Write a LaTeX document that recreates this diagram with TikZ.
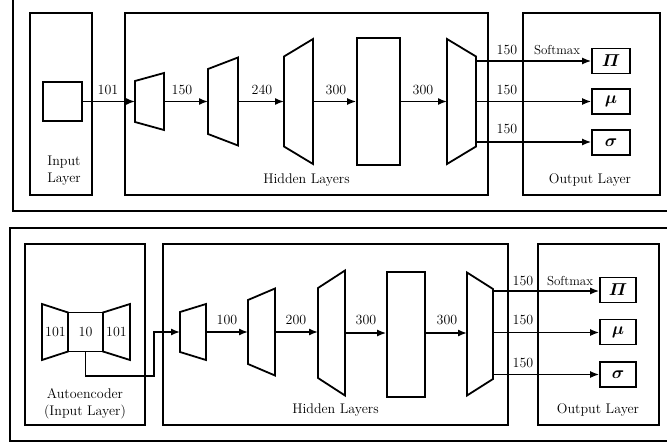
\documentclass[tikz,border=0pt]{standalone}
\usepackage{amsmath}
\usepackage{fontspec}
\setmainfont{Latin Modern Roman}
\usetikzlibrary{arrows.meta}
\tikzset{
  bx/.style={draw, line width=1.8pt, inner sep=0pt},
  shp/.style={draw, line width=1.8pt, line join=miter},
  conn/.style={line width=1.4pt, -{Latex[length=9pt,width=7pt]}},
  lbl/.style={inner sep=0pt, font=\fontsize{14}{16}\selectfont},
  smx/.style={inner sep=0pt, font=\fontsize{13}{15}\selectfont},
  ttl/.style={inner sep=0pt, align=center, font=\fontsize{14}{16.5}\selectfont},
  sym/.style={font=\fontsize{17.28}{19}\selectfont}
}
% name, cy, xl, half-height left, xr, half-height right
\newcommand\trapz[6]{%
  \draw[shp] (#3,#2-#4) -- (#3,#2+#4) -- (#5,#2+#6) -- (#5,#2-#6) -- cycle;
  \coordinate (#1w) at (#3,#2);
  \coordinate (#1e) at (#5,#2);
}
\begin{document}
\begin{tikzpicture}[x=1pt,y=-1pt]
\clip (0,0) rectangle (667,444);
%================ TOP PANEL ================
\draw[line width=1.8pt] (13,-10) rectangle (690,211);
\node[bx, minimum width=62pt, minimum height=182pt] (inbox) at (61,104) {};
\node[bx, minimum width=363pt, minimum height=182pt] (hid) at (306.5,104) {};
\node[bx, minimum width=137pt, minimum height=182pt] (outbox) at (591.5,104) {};
\node[bx, minimum width=39pt, minimum height=39pt] (sq) at (62.5,101.5) {};
\node[ttl] (intxt) at (64,170.5) {Input\\Layer};
\node[lbl] (hidtxt) at (306.5,180) {Hidden Layers};
\node[lbl] (outtxt) at (590,180) {Output Layer};
\trapz{ta}{101.5}{135}{20.5}{164}{28.5}
\trapz{tb}{101.5}{208}{32.5}{238}{44}
\trapz{tc}{101.5}{284}{45}{313}{62.5}
\node[bx, minimum width=43pt, minimum height=127pt] (tr) at (378.5,101.5) {};
\trapz{td}{101.5}{447}{62.5}{476}{45}
\coordinate (tdA) at (476,61);
\coordinate (tdC) at (476,142);
\node[bx, minimum width=38pt, minimum height=25pt, sym] (o1) at (611,61) {$\boldsymbol{\varPi}$};
\node[bx, minimum width=38pt, minimum height=25pt, sym] (o2) at (611,101.5) {$\boldsymbol{\mu}$};
\node[bx, minimum width=38pt, minimum height=25pt, sym] (o3) at (611,142.5) {$\boldsymbol{\sigma}$};
\draw[conn] (sq.east) -- (taw);
\draw[conn] (tae) -- (tbw);
\draw[conn] (tbe) -- (tcw);
\draw[conn] (tce) -- (tr.west);
\draw[conn] (tr.east) -- (tdw);
\draw[conn] (tdA) -- (tdA -| o1.west);
\draw[conn] (tde) -- (o2.west);
\draw[conn] (tdC) -- (tdC -| o3.west);
\node[lbl] (l1) at (108,90) {101};
\node[lbl] (l2) at (182,90) {150};
\node[lbl] (l3) at (262,90) {240};
\node[lbl] (l4) at (336,90) {300};
\node[lbl] (l5) at (423,90) {300};
\node[lbl] (l6) at (507,50) {150};
\node[lbl] (l7) at (507,90) {150};
\node[lbl] (l8) at (507,129) {150};
\node[smx] (sm1) at (557,50) {Softmax};
%================ BOTTOM PANEL ================
\draw[line width=1.8pt] (10,228) rectangle (690,441);
\node[bx, minimum width=120pt, minimum height=181pt] (aebox) at (85,334.5) {};
\node[bx, minimum width=345pt, minimum height=181pt] (hid2) at (335.5,334.5) {};
\node[bx, minimum width=121pt, minimum height=181pt] (outbox2) at (598.5,334.5) {};
\trapz{ea}{332}{42}{28}{68}{19.5}
\node[bx, minimum width=35pt, minimum height=39pt] (mid) at (85.5,332) {};
\trapz{eb}{332}{103}{19.5}{130}{28}
\node[lbl] (e1) at (55.5,332) {101};
\node[lbl] (e2) at (85.5,332) {10};
\node[lbl] (e3) at (116.5,332) {101};
\node[ttl] (aetxt) at (85,404) {Autoencoder\\(Input Layer)};
\node[lbl] (hidtxt2) at (335.5,410) {Hidden Layers};
\node[lbl] (outtxt2) at (598,410) {Output Layer};
\trapz{ba}{332}{180}{20}{206}{28}
\trapz{bb}{332}{248}{32}{275}{43.5}
\trapz{bc}{333}{318}{45}{345}{62.5}
\node[bx, minimum width=38pt, minimum height=125pt] (br) at (406,334.5) {};
\trapz{bd}{334}{467}{61.5}{493}{45}
\coordinate (bdA) at (493,291);
\coordinate (bdB) at (493,332.5);
\coordinate (bdC) at (493,374.5);
\coordinate (bend) at (154,376);
\node[bx, minimum width=36pt, minimum height=25pt, sym] (p1) at (618,290) {$\boldsymbol{\varPi}$};
\node[bx, minimum width=36pt, minimum height=25pt, sym] (p2) at (618,332) {$\boldsymbol{\mu}$};
\node[bx, minimum width=36pt, minimum height=25pt, sym] (p3) at (618,374.5) {$\boldsymbol{\sigma}$};
\draw[conn] (mid.south) |- (bend) |- (baw);
\draw[conn] (bae) -- (bbw);
\draw[conn] (bbe) -- (bbe -| bcw);
\draw[conn] (bce) -- (bce -| br.west);
\draw[conn] (bce -| br.east) -- (bce -| bdw);
\draw[conn] (bdA) -- (bdA -| p1.west);
\draw[conn] (bdB) -- (bdB -| p2.west);
\draw[conn] (bdC) -- (bdC -| p3.west);
\node[lbl] (m1) at (227,320) {100};
\node[lbl] (m2) at (296,320) {200};
\node[lbl] (m3) at (366,320) {300};
\node[lbl] (m4) at (447,320) {300};
\node[lbl] (m5) at (523,281) {150};
\node[lbl] (m6) at (523,320) {150};
\node[lbl] (m7) at (523,363) {150};
\node[smx] (sm2) at (570,281) {Softmax};
\end{tikzpicture}
\end{document}
